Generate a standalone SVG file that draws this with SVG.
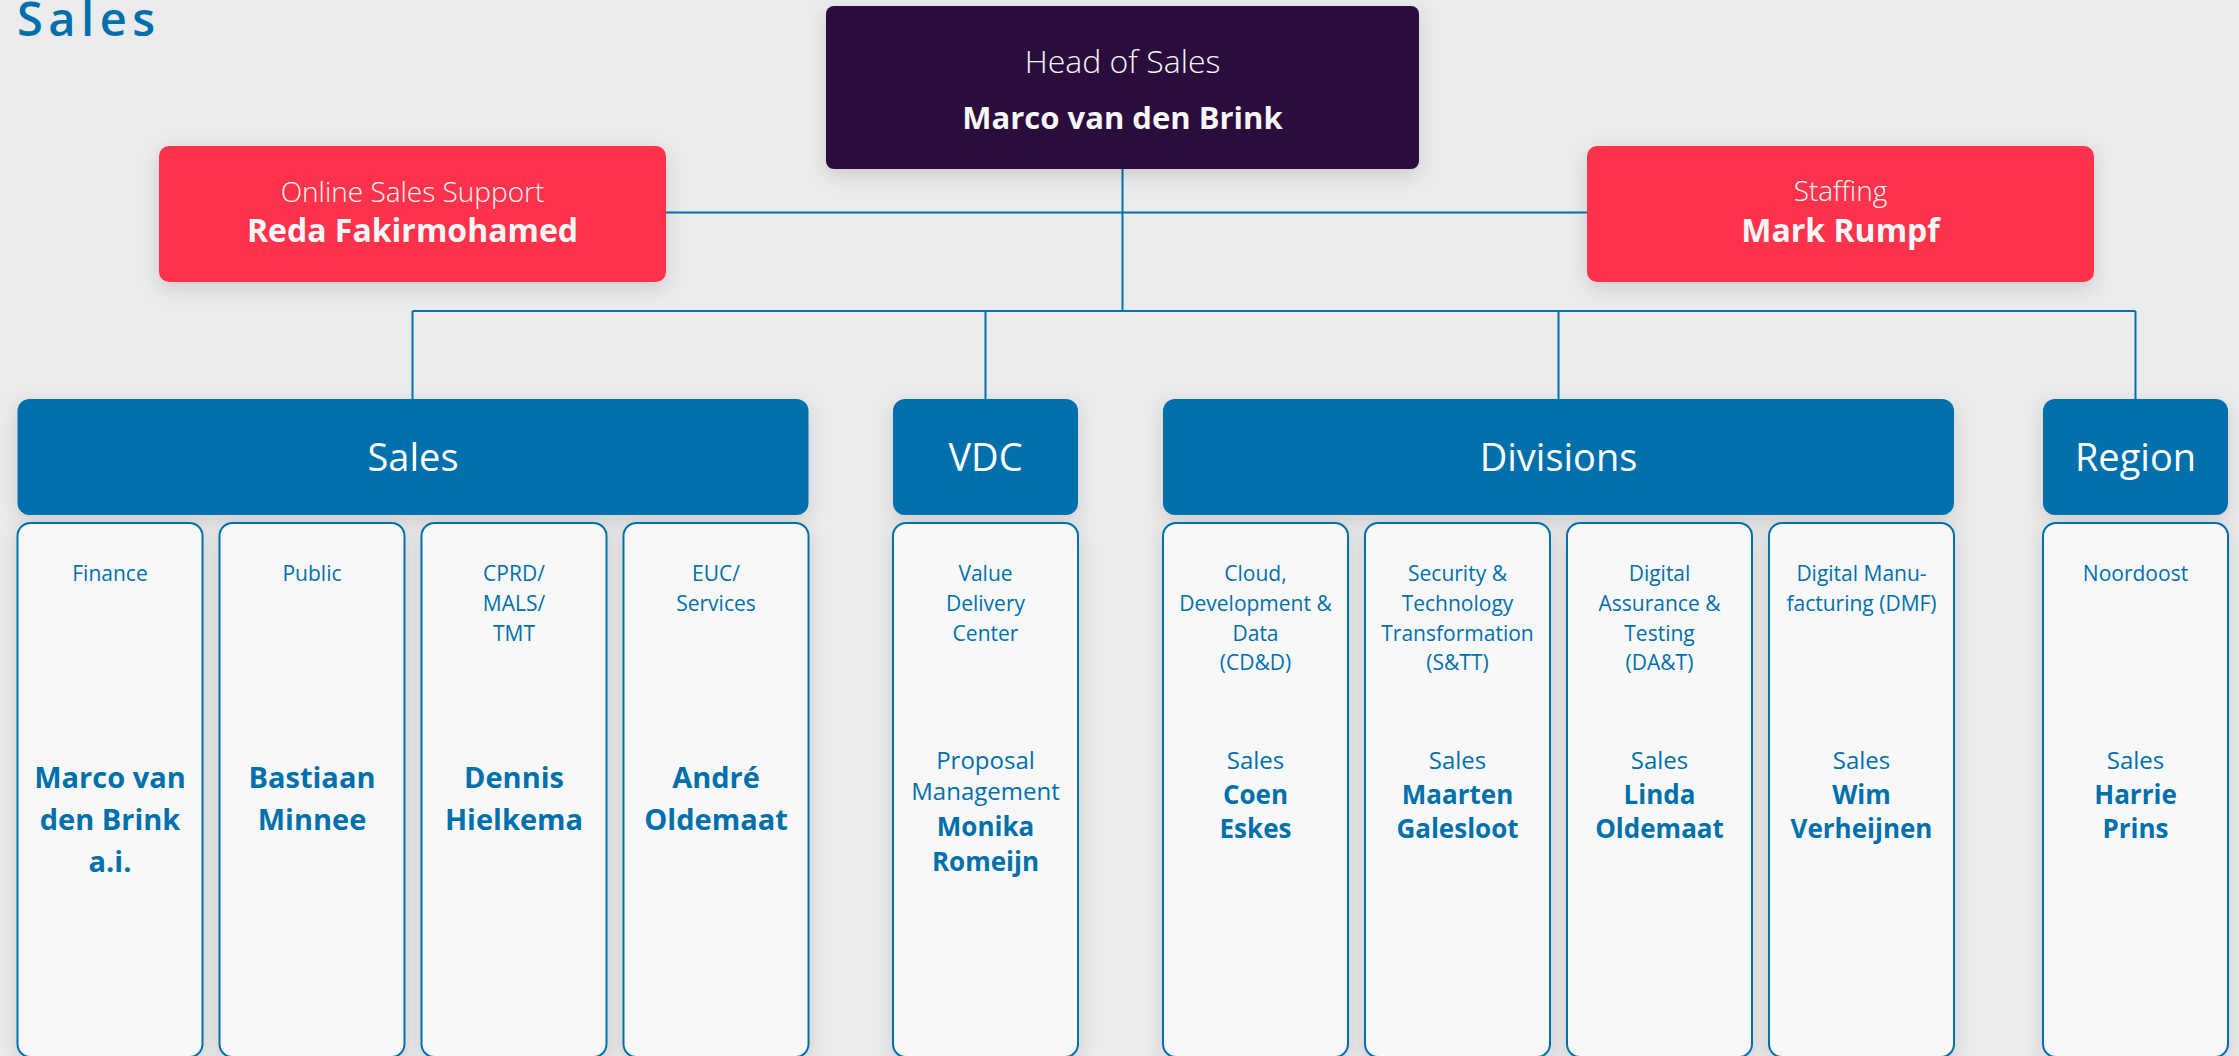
<svg xmlns="http://www.w3.org/2000/svg" width="2239" height="1056" viewBox="0 0 2239 1056">
<defs>
<style>
text{font-family:'Open Sans','Noto Sans','DejaVu Sans',sans-serif;text-anchor:middle}
.title{font-size:47px;font-weight:600;fill:#0070ad;text-anchor:start;letter-spacing:5.5px}
.w{fill:#f7f7f7}
.lt{font-weight:300}
.bd{font-weight:700}
.head{fill:#2c0a3d}
.red{fill:#ff304c}
.hdr{fill:#006fad}
.hdrt{font-size:38px;fill:#ffffff}
.col{fill:#f8f8f8;stroke:#0070ad;stroke-width:2}
.b{fill:#0070ad}
.sub{font-size:21px}
.role{font-size:24px}
.nm{font-size:29px;font-weight:700}
.nm2{font-size:26px;font-weight:700}
.conn{fill:none;stroke:#0070ad;stroke-width:2}
</style>
<filter id="sh" x="-30%" y="-30%" width="160%" height="170%">
<feDropShadow dx="0" dy="6" stdDeviation="9" flood-color="#000" flood-opacity="0.13"/>
</filter>
</defs>
<rect x="0" y="0" width="2239" height="1056" fill="#ebebeb"/>
<text class="title" x="17" y="36">Sales</text>

<g id="connectors">
<path class="conn" d="M1122.5 169 V311"/>
<path class="conn" d="M666 212.5 H1587"/>
<path class="conn" d="M412.5 311 H2135.5"/>
<path class="conn" d="M412.5 311 V399"/>
<path class="conn" d="M985.5 311 V399"/>
<path class="conn" d="M1558.5 311 V399"/>
<path class="conn" d="M2135.5 311 V399"/>
</g>

<g id="head-of-sales">
<rect class="head" x="826" y="6" width="593" height="163" rx="8" filter="url(#sh)"/>
<text class="w lt" x="1122.5" y="73" font-size="32">Head of Sales</text>
<text class="w bd" x="1122.5" y="129" font-size="31">Marco van den Brink</text>
</g>

<g id="online-sales-support">
<rect class="red" x="159" y="146" width="507" height="136" rx="10" filter="url(#sh)"/>
<text class="w lt" x="412.5" y="202" font-size="28">Online Sales Support</text>
<text class="w bd" x="412.5" y="242" font-size="32">Reda Fakirmohamed</text>
</g>

<g id="staffing">
<rect class="red" x="1587" y="146" width="507" height="136" rx="10" filter="url(#sh)"/>
<text class="w lt" x="1840.5" y="201" font-size="28">Staffing</text>
<text class="w bd" x="1840.5" y="242" font-size="32">Mark Rumpf</text>
</g>

<g id="sales-header">
<rect class="hdr" x="17.5" y="399" width="791" height="116" rx="12" filter="url(#sh)"/>
<text class="hdrt" x="413" y="471">Sales</text>
</g>
<g id="vdc-header">
<rect class="hdr" x="893" y="399" width="185" height="116" rx="12" filter="url(#sh)"/>
<text class="hdrt" x="985.5" y="471">VDC</text>
</g>
<g id="divisions-header">
<rect class="hdr" x="1163" y="399" width="791" height="116" rx="12" filter="url(#sh)"/>
<text class="hdrt" x="1558.5" y="471">Divisions</text>
</g>
<g id="region-header">
<rect class="hdr" x="2043" y="399" width="185" height="116" rx="12" filter="url(#sh)"/>
<text class="hdrt" x="2135.5" y="471">Region</text>
</g>

<g id="finance">
<rect class="col" x="17.5" y="523" width="185" height="534" rx="13" filter="url(#sh)"/>
<text class="b sub" x="110" y="581">Finance</text>
<text class="b nm" x="110" y="788">Marco van</text>
<text class="b nm" x="110" y="830">den Brink</text>
<text class="b nm" x="110" y="872">a.i.</text>
</g>
<g id="public">
<rect class="col" x="219.5" y="523" width="185" height="534" rx="13" filter="url(#sh)"/>
<text class="b sub" x="312" y="581">Public</text>
<text class="b nm" x="312" y="788">Bastiaan</text>
<text class="b nm" x="312" y="830">Minnee</text>
</g>
<g id="cprd">
<rect class="col" x="421.5" y="523" width="185" height="534" rx="13" filter="url(#sh)"/>
<text class="b sub" x="514" y="581">CPRD/</text>
<text class="b sub" x="514" y="611">MALS/</text>
<text class="b sub" x="514" y="640.5">TMT</text>
<text class="b nm" x="514" y="788">Dennis</text>
<text class="b nm" x="514" y="830">Hielkema</text>
</g>
<g id="euc">
<rect class="col" x="623.5" y="523" width="185" height="534" rx="13" filter="url(#sh)"/>
<text class="b sub" x="716" y="581">EUC/</text>
<text class="b sub" x="716" y="611">Services</text>
<text class="b nm" x="716" y="788">André</text>
<text class="b nm" x="716" y="830">Oldemaat</text>
</g>
<g id="value-delivery-center">
<rect class="col" x="893" y="523" width="185" height="534" rx="13" filter="url(#sh)"/>
<text class="b sub" x="985.5" y="581">Value</text>
<text class="b sub" x="985.5" y="611">Delivery</text>
<text class="b sub" x="985.5" y="640.5">Center</text>
<text class="b role" x="985.5" y="769">Proposal</text>
<text class="b role" x="985.5" y="800">Management</text>
<text class="b nm2" x="985.5" y="836">Monika</text>
<text class="b nm2" x="985.5" y="871">Romeijn</text>
</g>
<g id="cdd">
<rect class="col" x="1163" y="523" width="185" height="534" rx="13" filter="url(#sh)"/>
<text class="b sub" x="1255.5" y="581">Cloud,</text>
<text class="b sub" x="1255.5" y="611">Development &amp;</text>
<text class="b sub" x="1255.5" y="640.5">Data</text>
<text class="b sub" x="1255.5" y="670">(CD&amp;D)</text>
<text class="b role" x="1255.5" y="769">Sales</text>
<text class="b nm2" x="1255.5" y="804">Coen</text>
<text class="b nm2" x="1255.5" y="838">Eskes</text>
</g>
<g id="stt">
<rect class="col" x="1365" y="523" width="185" height="534" rx="13" filter="url(#sh)"/>
<text class="b sub" x="1457.5" y="581">Security &amp;</text>
<text class="b sub" x="1457.5" y="611">Technology</text>
<text class="b sub" x="1457.5" y="640.5">Transformation</text>
<text class="b sub" x="1457.5" y="670">(S&amp;TT)</text>
<text class="b role" x="1457.5" y="769">Sales</text>
<text class="b nm2" x="1457.5" y="804">Maarten</text>
<text class="b nm2" x="1457.5" y="838">Galesloot</text>
</g>
<g id="dat">
<rect class="col" x="1567" y="523" width="185" height="534" rx="13" filter="url(#sh)"/>
<text class="b sub" x="1659.5" y="581">Digital</text>
<text class="b sub" x="1659.5" y="611">Assurance &amp;</text>
<text class="b sub" x="1659.5" y="640.5">Testing</text>
<text class="b sub" x="1659.5" y="670">(DA&amp;T)</text>
<text class="b role" x="1659.5" y="769">Sales</text>
<text class="b nm2" x="1659.5" y="804">Linda</text>
<text class="b nm2" x="1659.5" y="838">Oldemaat</text>
</g>
<g id="dmf">
<rect class="col" x="1769" y="523" width="185" height="534" rx="13" filter="url(#sh)"/>
<text class="b sub" x="1861.5" y="581">Digital Manu-</text>
<text class="b sub" x="1861.5" y="611">facturing (DMF)</text>
<text class="b role" x="1861.5" y="769">Sales</text>
<text class="b nm2" x="1861.5" y="804">Wim</text>
<text class="b nm2" x="1861.5" y="838">Verheijnen</text>
</g>
<g id="noordoost">
<rect class="col" x="2043" y="523" width="185" height="534" rx="13" filter="url(#sh)"/>
<text class="b sub" x="2135.5" y="581">Noordoost</text>
<text class="b role" x="2135.5" y="769">Sales</text>
<text class="b nm2" x="2135.5" y="804">Harrie</text>
<text class="b nm2" x="2135.5" y="838">Prins</text>
</g>
</svg>
